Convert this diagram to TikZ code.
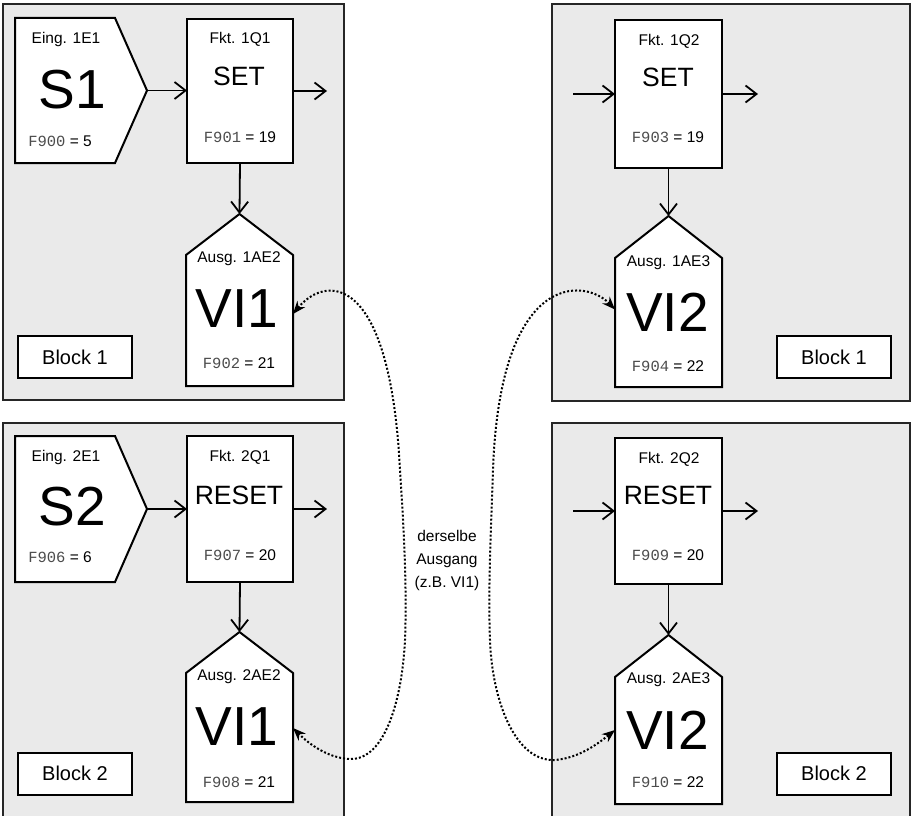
\documentclass[tikz,border=0pt]{standalone}
\usepackage{fontspec}
\setmainfont{Liberation Sans}
\newfontfamily\segfont{Liberation Mono}
\usetikzlibrary{arrows.meta}
\definecolor{panelgray}{HTML}{EAEAEA}
\newcommand\sevseg[1]{{\segfont\color{black!70}#1}}
\tikzset{
  panel/.style={draw=black!85, line width=2.2pt, fill=panelgray},
  box/.style={draw, line width=2pt, fill=white, inner sep=0pt, outer sep=0pt},
  ghost/.style={inner sep=0pt, outer sep=0pt},
  shapeline/.style={draw, line width=2pt, fill=white, line join=miter},
  flow/.style={line width=1.8pt, -{Straight Barb[length=11pt,width=17pt,line width=1.8pt]}},
  link/.style={line width=2pt, dash pattern=on 2pt off 2pt,
    {Stealth[length=13pt,width=10pt]}-{Stealth[length=13pt,width=10pt]}},
  small/.style={font=\fontsize{15.5}{18}\selectfont, inner sep=0pt},
  huge/.style={font=\fontsize{55}{60}\selectfont, inner sep=0pt},
  mid/.style={font=\fontsize{26.5}{30}\selectfont, inner sep=0pt},
  blk/.style={draw, line width=2pt, fill=white, minimum width=114pt, minimum height=42pt,
    inner sep=0pt, font=\fontsize{20}{22}\selectfont},
}
\begin{document}
\begin{tikzpicture}[x=1pt,y=-1pt]
\clip (0,0) rectangle (911,816);
\fill[white] (0,0) rectangle (911,816);

% ===== top-left panel =====
\draw[panel] (3,4) rectangle (344,400);
\node[ghost, minimum width=132pt, minimum height=145pt] (e1) at (81,90.5) {};
\draw[shapeline] (e1.north west) -- ([xshift=-32pt]e1.north east) -- (e1.east) -- ([xshift=-32pt]e1.south east) -- (e1.south west) -- cycle;
\node[small] (e1t) at (66,39) {Eing. 1E1};
\node[huge] (e1m) at (72,90) {S1};
\node[small] (e1b) at (60,141) {\sevseg{F900} = 5};

\node[box, minimum width=106pt, minimum height=144pt] (f1) at (240,91) {};
\node[small] (f1t) at (240,39) {Fkt. 1Q1};
\node[mid] (f1m) at (239,76) {SET};
\node[small] (f1b) at (240,137) {\sevseg{F901} = 19};

\node[ghost, minimum width=107pt, minimum height=172pt] (a1) at (239.5,300) {};
\draw[shapeline] (a1.south west) -- ([yshift=-41pt]a1.north west) -- (a1.north) -- ([yshift=-41pt]a1.north east) -- (a1.south east) -- cycle;
\node[small] (a1t) at (239,259) {Ausg. 1AE2};
\node[huge] (a1m) at (237,309) {VI1};
\node[small] (a1b) at (239,363) {\sevseg{F902} = 21};

\coordinate (o1) at (327,91);
\draw[flow] (e1.east) -- (e1.east -| f1.west);
\draw[flow] (f1.east) -- (o1);
\draw[flow] (f1.south) -- (a1.north);
\node[blk] (b1) at (75,357) {Block 1};

% ===== top-right panel =====
\draw[panel] (552,4) rectangle (910,401);
\node[box, minimum width=107pt, minimum height=148pt] (f2) at (668.5,94) {};
\node[small] (f2t) at (669,41) {Fkt. 1Q2};
\node[mid] (f2m) at (668,77.5) {SET};
\node[small] (f2b) at (668,137) {\sevseg{F903} = 19};

\node[ghost, minimum width=107pt, minimum height=171pt] (a2) at (668.5,301.5) {};
\draw[shapeline] (a2.south west) -- ([yshift=-42pt]a2.north west) -- (a2.north) -- ([yshift=-42pt]a2.north east) -- (a2.south east) -- cycle;
\node[small] (a2t) at (668.5,263) {Ausg. 1AE3};
\node[huge] (a2m) at (667.5,312) {VI2};
\node[small] (a2b) at (668,366) {\sevseg{F904} = 22};

\coordinate (i2) at (573,94);
\coordinate (o2) at (758,94);
\draw[flow] (i2) -- (f2.west);
\draw[flow] (f2.east) -- (o2);
\draw[flow] (f2.south) -- (a2.north);
\node[blk] (b2) at (834,357) {Block 1};

% ===== bottom-left panel =====
\draw[panel] (3,423) rectangle (344,830);
\node[ghost, minimum width=132pt, minimum height=146pt] (e3) at (81,509) {};
\draw[shapeline] (e3.north west) -- ([xshift=-32pt]e3.north east) -- (e3.east) -- ([xshift=-32pt]e3.south east) -- (e3.south west) -- cycle;
\node[small] (e3t) at (66,457) {Eing. 2E1};
\node[huge] (e3m) at (72,507) {S2};
\node[small] (e3b) at (60,557) {\sevseg{F906} = 6};

\node[box, minimum width=106pt, minimum height=146pt] (f3) at (240,509) {};
\node[small] (f3t) at (240,457) {Fkt. 2Q1};
\node[mid] (f3m) at (239,495) {RESET};
\node[small] (f3b) at (240,555) {\sevseg{F907} = 20};

\node[ghost, minimum width=107pt, minimum height=170pt] (a3) at (239.5,717) {};
\draw[shapeline] (a3.south west) -- ([yshift=-41pt]a3.north west) -- (a3.north) -- ([yshift=-41pt]a3.north east) -- (a3.south east) -- cycle;
\node[small] (a3t) at (239,677) {Ausg. 2AE2};
\node[huge] (a3m) at (237,727) {VI1};
\node[small] (a3b) at (239,782) {\sevseg{F908} = 21};

\coordinate (o3) at (327,509);
\draw[flow] (e3.east) -- (e3.east -| f3.west);
\draw[flow] (f3.east) -- (o3);
\draw[flow] (f3.south) -- (a3.north);
\node[blk] (b3) at (75,773.5) {Block 2};

% ===== bottom-right panel =====
\draw[panel] (552,423) rectangle (910,830);
\node[box, minimum width=107pt, minimum height=146pt] (f4) at (668.5,511) {};
\node[small] (f4t) at (669,459) {Fkt. 2Q2};
\node[mid] (f4m) at (668,495) {RESET};
\node[small] (f4b) at (668,555) {\sevseg{F909} = 20};

\node[ghost, minimum width=107pt, minimum height=169pt] (a4) at (668.5,719.5) {};
\draw[shapeline] (a4.south west) -- ([yshift=-42pt]a4.north west) -- (a4.north) -- ([yshift=-42pt]a4.north east) -- (a4.south east) -- cycle;
\node[small] (a4t) at (668.5,680) {Ausg. 2AE3};
\node[huge] (a4m) at (667.5,730) {VI2};
\node[small] (a4b) at (668,782) {\sevseg{F910} = 22};

\coordinate (i4) at (573,511);
\coordinate (o4) at (758,511);
\draw[flow] (i4) -- (f4.west);
\draw[flow] (f4.east) -- (o4);
\draw[flow] (f4.south) -- (a4.north);
\node[blk] (b4) at (834,773.5) {Block 2};

% ===== dotted links =====
\draw[link] ([yshift=-14pt]a1.east) .. controls (325,275) and (390,270) .. (400,470)
  .. controls (404,530) and (407,590) .. (405,640)
  .. controls (402,700) and (385,760) .. (350,759)
  .. controls (325,758) and (305,740) .. ([yshift=-11pt]a3.east);
\draw[link] ([yshift=-8pt]a2.west) .. controls (585,278) and (500,270) .. (493,470)
  .. controls (491,530) and (488,590) .. (490,640)
  .. controls (492,700) and (515,762) .. (555,760)
  .. controls (580,758) and (600,742) .. ([yshift=-10.5pt]a4.west);
\node[align=center, inner sep=0pt, font=\fontsize{15.5}{23}\selectfont] (lbl) at (447,560) {derselbe\\Ausgang\\(z.B. VI1)};
\end{tikzpicture}
\end{document}
